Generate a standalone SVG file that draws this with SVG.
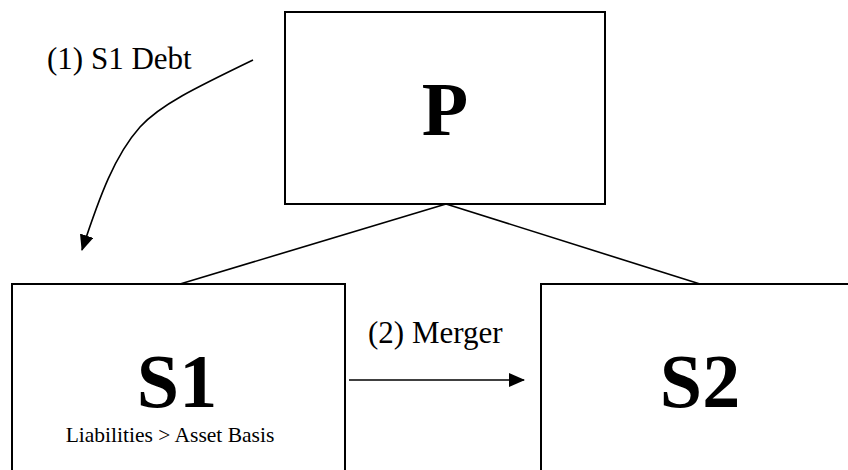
<svg xmlns="http://www.w3.org/2000/svg" width="848" height="470" viewBox="0 0 848 470">
<defs>
<style>
.box{fill:#fff;stroke:#000;stroke-width:2}
.ln{fill:none;stroke:#000;stroke-width:1.6}
text{font-family:"Liberation Serif",Tinos,"Times New Roman",Times,"DejaVu Serif",serif;fill:#000}
.big{font-weight:bold;font-size:76px;text-anchor:middle}
.lbl{font-size:31px}
.sm{font-size:21.5px;text-anchor:middle}
</style>
<marker id="ah" markerWidth="16" markerHeight="14" refX="15" refY="7" orient="auto" markerUnits="userSpaceOnUse" viewBox="0 0 16 14">
<path d="M0,0 L16,7 L0,14 z" fill="#000"/>
</marker>
</defs>
<rect width="848" height="470" fill="#fff"/>
<g id="connectors">
<path class="ln" d="M446,204 L180,284"/>
<path class="ln" d="M446,204 L700,284"/>
<path class="ln" d="M253,60 C195,88 160,105 140,127 C115,155 100,195 82,250" marker-end="url(#ah)"/>
<path class="ln" d="M349,380 L524,380" marker-end="url(#ah)"/>
</g>
<g id="P">
<rect class="box" x="285" y="12" width="320" height="192"/>
<text class="big" x="445" y="135">P</text>
</g>
<g id="S1">
<rect class="box" x="12" y="284" width="333" height="200"/>
<text class="big" x="177" y="407">S1</text>
<text class="sm" x="170" y="442">Liabilities &gt; Asset Basis</text>
</g>
<g id="S2">
<rect class="box" x="541" y="284" width="320" height="200"/>
<text class="big" x="700" y="407">S2</text>
</g>
<g id="labels">
<text class="lbl" x="47" y="69">(1) S1 Debt</text>
<text class="lbl" x="368" y="343">(2) Merger</text>
</g>
</svg>
